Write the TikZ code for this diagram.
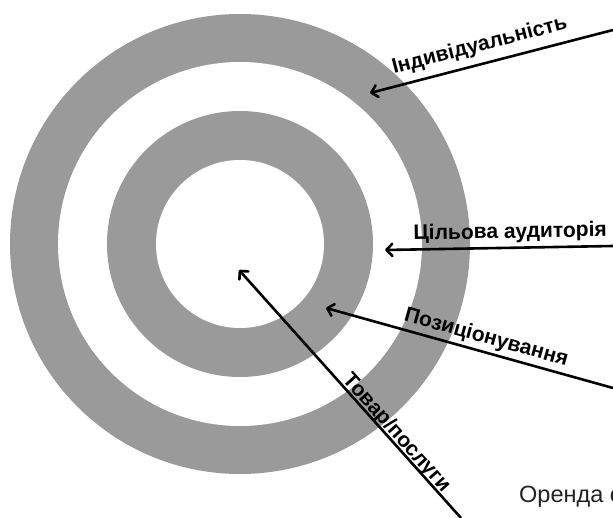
\documentclass[tikz,border=0pt]{standalone}
\usepackage{fontspec}
\setmainfont{Liberation Sans}
\usetikzlibrary{arrows.meta}
\definecolor{ringgray}{HTML}{9A9A9A}
\definecolor{textdark}{HTML}{222222}
\tikzset{
  ring/.style={fill=ringgray, draw=none},
  hole/.style={fill=white, draw=none},
  arr/.style={line width=2.6pt, {Straight Barb[length=6pt,width=12pt,line cap=round,line join=round]}-},
  lbl/.style={font=\fontsize{21}{23}\selectfont\bfseries, text=black, inner sep=3pt, sloped, above},
}
\begin{document}
\begin{tikzpicture}[x=1pt,y=-1pt]
\useasboundingbox (0,0) rectangle (613,518);
\fill[white] (0,0) rectangle (613,518);
% target rings
\coordinate (c) at (240,244);
\fill[ring] (c) circle[radius=230];
\fill[hole] (c) circle[radius=182];
\fill[ring] (c) circle[radius=133];
\fill[hole] (c) circle[radius=84];
% arrow end points
\coordinate (h1) at (370,93);  \coordinate (t1) at (613,30);
\coordinate (h2) at (385,250); \coordinate (t2) at (613,246);
\coordinate (h3) at (326,308); \coordinate (t3) at (613,388);
\coordinate (h4) at (239,270); \coordinate (t4) at (461,518);
\draw[arr] (h1) -- node[lbl, pos=0.47, inner sep=7pt] (l1) {Індивідуальність} (t1);
\draw[arr] (h2) -- node[lbl, pos=0.55, inner sep=4pt] (l2) {Цільова аудиторія} (t2);
\draw[arr] (h3) -- node[lbl, pos=0.545, inner sep=3pt] (l3) {Позиціонування} (t3);
\draw[arr] (h4) -- node[lbl, pos=0.68, anchor=base, inner sep=0pt, yshift=3pt] (l4) {Товар/послуги} (t4);
% cut-off text at bottom right
\node[anchor=base west, inner sep=0pt, text=textdark, font=\fontsize{23.5}{26}\selectfont] (o) at (519,502) {Оренда с};
\end{tikzpicture}
\end{document}
